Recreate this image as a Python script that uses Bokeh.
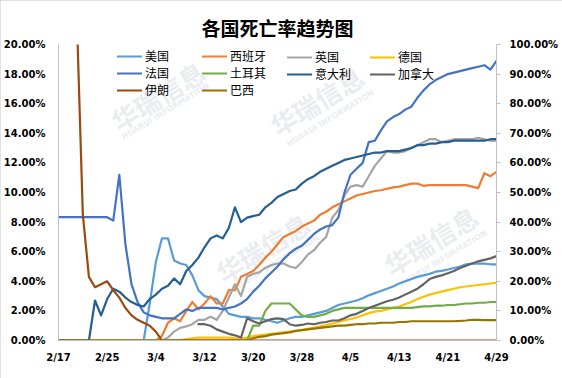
from bokeh.plotting import figure
from bokeh.models import Range1d, LinearAxis, FixedTicker, Legend, LegendItem, Label
from bokeh.embed import file_html
from bokeh.resources import INLINE

nan = float("nan")

# x positions: day index from 2/17 (0) to 4/29 (72)
days = list(range(73))
tick_days = [0, 8, 16, 24, 32, 40, 48, 56, 64, 72]
tick_labels = ["2/17", "2/25", "3/4", "3/12", "3/20", "3/28", "4/5", "4/13", "4/21", "4/29"]

left_ticks = [0, 2, 4, 6, 8, 10, 12, 14, 16, 18, 20]
left_labels = ["0.00%", "2.00%", "4.00%", "6.00%", "8.00%", "10.00%", "12.00%", "14.00%", "16.00%", "18.00%", "20.00%"]
right_ticks = [0, 10, 20, 30, 40, 50, 60, 70, 80, 90, 100]
right_labels = ["0.00%", "10.00%", "20.00%", "30.00%", "40.00%", "50.00%", "60.00%", "70.00%", "80.00%", "90.00%", "100.00%"]

title_text = "各国死亡率趋势图"

# death rate (%) per day
us = [0]*15 + [2.5, 5.3, 6.9, 6.9, 5.4, 5.2, 5.1, 4.4, 3.4, 3.0, 2.9, 2.8, 2.3, 1.8, 1.7, 1.6, 1.6, 1.5, 1.5, 1.4,
               1.3, 1.2, 1.35, 1.5, 1.6, 1.6, 1.7, 1.8, 1.9, 2.0, 2.2, 2.4, 2.5, 2.6, 2.7, 2.85, 3.05, 3.2, 3.35, 3.5,
               3.65, 3.85, 4.0, 4.15, 4.3, 4.4, 4.5, 4.65, 4.7, 4.8, 4.9, 5.0, 5.15, 5.2, 5.2, 5.2, 5.15, 5.15]
spain = [0]*17 + [0.3, 1.2, 1.5, 1.3, 2.0, 2.6, 2.1, 2.5, 3.0, 2.5, 2.5, 3.4, 3.4, 4.3, 4.5, 4.7, 5.1, 5.6, 6.0, 6.5,
                  7.0, 7.2, 7.4, 7.7, 7.9, 8.1, 8.5, 8.7, 9.0, 9.2, 9.4, 9.6, 9.8, 9.9, 10.0, 10.1, 10.15, 10.25,
                  10.35, 10.4, 10.5, 10.6, 10.6, 10.45, 10.5, 10.5, 10.5, 10.5, 10.5, 10.5, 10.5, 10.4, 10.3, 11.3,
                  11.1, 11.4]
uk = [0]*18 + [0.2, 0.6, 0.85, 0.95, 1.1, 1.4, 1.4, 1.6, 1.4, 2.0, 2.9, 3.8, 3.0, 4.3, 4.5, 4.6, 4.9, 5.1, 5.2, 5.2,
               5.0, 4.9, 5.3, 5.8, 6.1, 6.6, 7.0, 8.3, 8.8, 9.8, 10.4, 10.5, 10.4, 11.1, 11.8, 12.3, 12.8, 12.7, 12.7,
               12.8, 13.0, 13.2, 13.4, 13.6, 13.6, 13.4, 13.5, 13.6, 13.6, 13.6, 13.6, 13.7, 13.6, 13.5, 13.5]
germany = [0]*21 + [0.1, 0.15, 0.2, 0.2, 0.2, 0.2, 0.2, 0.2, 0.15, 0.15, 0.2, 0.3, 0.35, 0.4, 0.45, 0.5, 0.55, 0.6,
                    0.65, 0.7, 0.8, 0.85, 0.95, 1.05, 1.15, 1.25, 1.35, 1.45, 1.55, 1.7, 1.85, 1.95, 2.0, 2.1, 2.2,
                    2.3, 2.45, 2.6, 2.8, 2.95, 3.1, 3.2, 3.3, 3.4, 3.5, 3.6, 3.65, 3.7, 3.75, 3.8, 3.85, 3.9]
france = [8.33]*9 + [8.1, 11.2, 6.5, 3.8, 2.6, 1.9, 1.7, 1.6, 1.5, 1.5, 1.5, 1.8, 2.1, 2.0, 2.2, 2.2, 2.2, 2.2, 2.1,
                     2.2, 2.3, 2.5, 2.8, 3.3, 3.7, 4.2, 4.6, 5.0, 5.5, 5.9, 6.2, 6.4, 6.8, 7.2, 7.5, 7.7, 7.8, 8.3,
                     10.0, 11.2, 11.6, 12.0, 13.4, 13.5, 14.2, 14.8, 15.1, 15.3, 15.6, 15.8, 16.4, 16.9, 17.3, 17.6,
                     17.8, 18.0, 18.1, 18.2, 18.3, 18.4, 18.5, 18.6, 18.3, 18.9]
turkey = [0]*32 + [1.0, 1.0, 2.0, 2.5, 2.5, 2.5, 2.5, 2.1, 1.7, 1.6, 1.6, 1.7, 1.8, 2.0, 2.1, 2.2, 2.2, 2.2, 2.2, 2.2,
                   2.2, 2.2, 2.2, 2.2, 2.2, 2.2, 2.2, 2.25, 2.3, 2.3, 2.35, 2.35, 2.4, 2.4, 2.45, 2.5, 2.5, 2.55,
                   2.55, 2.6, 2.6]
italy = [0]*6 + [2.7, 1.7, 2.8, 3.5, 3.3, 2.9, 2.6, 2.4, 2.3, 2.8, 3.1, 3.5, 3.7, 4.2, 3.8, 4.7, 5.1, 5.6, 6.3, 6.9,
                 7.1, 6.9, 7.6, 9.0, 8.0, 8.3, 8.4, 8.5, 9.0, 9.3, 9.7, 9.9, 10.1, 10.2, 10.6, 10.9, 11.1, 11.4, 11.6,
                 11.8, 12.0, 12.2, 12.3, 12.4, 12.5, 12.6, 12.7, 12.7, 12.8, 12.8, 12.8, 12.9, 13.0, 13.2, 13.2, 13.3,
                 13.3, 13.4, 13.4, 13.5, 13.5, 13.5, 13.5, 13.5, 13.5, 13.6, 13.6]
canada = [nan]*23 + [1.1, 1.1, 1.0, 0.75, 0.6, 0.45, 0.35, 0.2, 1.5, 1.3, 1.15, 1.3, 1.45, 1.5, 1.45, 1.1, 1.0, 1.05,
                     1.15, 1.1, 1.2, 1.25, 1.35, 1.35, 1.5, 1.7, 1.8, 2.0, 2.2, 2.35, 2.5, 2.65, 2.75, 2.9, 3.1, 3.3,
                     3.5, 3.8, 4.15, 4.3, 4.4, 4.55, 4.7, 4.9, 5.05, 5.2, 5.35, 5.45, 5.55, 5.7]
iran = [nan]*3 + [22.0, 8.5, 4.3, 3.6, 3.8, 4.0, 3.4, 2.9, 2.2, 1.7, 1.4, 1.2, 1.0, 0.6] + [0]*56
brazil = [0]*32 + [0.15, 0.25, 0.3, 0.4, 0.45, 0.5, 0.55, 0.65, 0.7, 0.75, 0.8, 0.85, 0.9, 0.95, 1.0, 1.0, 1.05, 1.1,
                   1.1, 1.15, 1.15, 1.2, 1.2, 1.2, 1.25, 1.25, 1.3, 1.3, 1.3, 1.3, 1.3, 1.3, 1.3, 1.3, 1.32, 1.35,
                   1.4, 1.4, 1.38, 1.38, 1.38]

names = ["美国", "西班牙", "英国", "德国", "法国", "土耳其", "意大利", "加拿大", "伊朗", "巴西"]
values = [us, spain, uk, germany, france, turkey, italy, canada, iran, brazil]
colors = ["#5B9BD5", "#ED7D31", "#A5A5A5", "#FFC000", "#4472C4", "#70AD47", "#255E91", "#636363", "#9E480E", "#997300"]

p = figure(width=562, height=378, x_range=Range1d(0, 72), y_range=Range1d(0, 20),
           output_backend="svg", toolbar_location=None,
           min_border_left=58, min_border_right=66, min_border_top=44, min_border_bottom=38)
p.extra_y_ranges = {"right": Range1d(0, 100)}
p.outline_line_color = None
p.xgrid.visible = False
p.ygrid.visible = False
p.background_fill_color = "white"
p.border_fill_color = "white"
p.styles = {"outline": "1px solid #D9D9D9", "outline-offset": "-1px"}

p.title.text = title_text
p.title.align = "center"
p.title.offset = 4
p.title.standoff = 8
p.title.text_font = "Noto Sans CJK SC"
p.title.text_font_style = "bold"
p.title.text_font_size = "19px"
p.title.text_color = "#000000"

axis_font = "DejaVu Sans"

def style_axis(ax):
    ax.axis_line_color = "#BFBFBF"
    ax.axis_line_width = 1
    ax.major_label_text_font = axis_font
    ax.major_label_text_font_style = "bold"
    ax.major_label_text_font_size = "10px"
    ax.major_label_text_color = "#000000"
    ax.minor_tick_line_color = None
    ax.major_tick_in = 0

xa = p.xaxis[0]
style_axis(xa)
xa.ticker = FixedTicker(ticks=tick_days)
xa.major_label_overrides = {d: s for d, s in zip(tick_days, tick_labels)}
xa.major_tick_out = 0
xa.major_label_standoff = 11

ya = p.yaxis[0]
style_axis(ya)
ya.ticker = FixedTicker(ticks=left_ticks)
ya.major_label_overrides = {t: s for t, s in zip(left_ticks, left_labels)}
ya.major_tick_out = 0
ya.major_label_standoff = 13

ra = LinearAxis(y_range_name="right")
style_axis(ra)
ra.ticker = FixedTicker(ticks=right_ticks)
ra.major_label_overrides = {t: s for t, s in zip(right_ticks, right_labels)}
ra.major_tick_out = 4
ra.major_tick_line_color = "#BFBFBF"
ra.major_label_standoff = 9
p.add_layout(ra, "right")

# watermarks
wm = [(99, 245, 107, 229), (258, 240, 272, 222), (204, 93, 217, 77), (372, 100, 385, 82)]
for bx, by, sx, sy in wm:
    p.add_layout(Label(x=bx, y=by, x_units="screen", y_units="screen", text="华瑞信息",
                       text_font="Noto Sans CJK SC", text_font_style="bold", text_font_size="26px",
                       text_color="#D5D9E1", text_alpha=0.5, angle=0.55, text_align="center",
                       text_baseline="middle", level="underlay"))
    p.add_layout(Label(x=sx, y=sy, x_units="screen", y_units="screen", text="HUARUI INFORMATION",
                       text_font="DejaVu Sans", text_font_style="bold", text_font_size="8px",
                       text_color="#D5D9E1", text_alpha=0.5, angle=0.55, text_align="center",
                       text_baseline="middle", level="underlay"))

renderers = {}
for name, vals, col in zip(names, values, colors):
    r = p.line(days, vals, line_color=col, line_width=2.2, line_join="round", line_cap="round")
    renderers[name] = r

legend_cols = [["美国", "法国", "伊朗"], ["西班牙", "土耳其", "巴西"], ["英国", "意大利"], ["德国", "加拿大"]]
col_x = [59, 144, 229, 312]
item_h = 16
top_px = 50
for cx, items in zip(col_x, legend_cols):
    h = item_h * len(items)
    lg = Legend(items=[LegendItem(label=n, renderers=[renderers[n]]) for n in items],
                location=(cx, 340 - top_px - h), orientation="vertical",
                glyph_width=25, glyph_height=item_h, label_height=item_h, label_standoff=3,
                padding=0, spacing=0, margin=0,
                border_line_alpha=0, background_fill_alpha=0,
                label_text_font="Noto Sans CJK SC", label_text_font_size="12px",
                label_text_color="#000000")
    p.add_layout(lg, "center")

open("out.html", "w").write(file_html(p, INLINE))
